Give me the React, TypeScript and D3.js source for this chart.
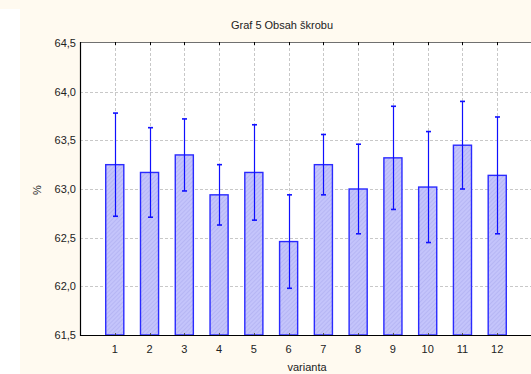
import React from "react";
import * as d3 from "d3";

// starch content by variant: mean and half-width of the error bar
const categories = ["1", "2", "3", "4", "5", "6", "7", "8", "9", "10", "11", "12"];
const means = [63.25, 63.17, 63.35, 62.94, 63.17, 62.46, 63.25, 63.0, 63.32, 63.02, 63.45, 63.14];
const errors = [0.53, 0.46, 0.37, 0.31, 0.49, 0.48, 0.31, 0.46, 0.53, 0.57, 0.45, 0.6];
const yTicks = [61.5, 62.0, 62.5, 63.0, 63.5, 64.0, 64.5];

const W = 531;
const H = 374;
const FONT = "'Liberation Sans', Arial, sans-serif";

export default function App() {
  const left = 80;
  const top = 43;
  const bottom = 335;
  const x = d3.scaleLinear().domain([0, 13]).range([left, 532]);
  const y = d3.scaleLinear().domain([61.5, 64.5]).range([bottom, top]);
  const halfBar = 0.26;
  const fmt = (v: number) => v.toFixed(1).replace(".", ",");

  return (
    <svg
      width={W}
      height={H}
      style={{ position: "absolute", left: 0, top: 0 }}
      fontFamily={FONT}
    >
      <defs>
        <pattern id="hatch" width="3" height="3" patternUnits="userSpaceOnUse" patternTransform="rotate(45)">
          <rect width="3" height="3" fill="#c4c4fb" />
          <line x1="0" y1="0" x2="0" y2="3" stroke="#a8a8ee" strokeWidth="1" />
        </pattern>
      </defs>
      <rect x={0} y={0} width={W} height={H} fill="#fffaf0" />
      <rect x={0} y={9} width={20} height={H - 9} fill="#ffffff" />
      <rect x={left} y={top} width={532 - left} height={bottom - top} fill="#ffffff" />

      {/* grid */}
      {yTicks.slice(1, -1).map((t) => (
        <line
          key={"gy" + t}
          x1={left}
          x2={532}
          y1={Math.round(y(t)) + 0.5}
          y2={Math.round(y(t)) + 0.5}
          stroke="#c8c8c8"
          strokeDasharray="3,2"
        />
      ))}
      {categories.map((c, i) => (
        <line
          key={"gx" + c}
          x1={Math.round(x(i + 1)) + 0.5}
          x2={Math.round(x(i + 1)) + 0.5}
          y1={top}
          y2={bottom}
          stroke="#c8c8c8"
          strokeDasharray="3,2"
        />
      ))}

      {/* bars */}
      {means.map((m, i) => (
        <rect
          key={"b" + i}
          x={x(i + 1 - halfBar)}
          y={y(m)}
          width={x(i + 1 + halfBar) - x(i + 1 - halfBar)}
          height={bottom - y(m)}
          fill="url(#hatch)"
          stroke="#2a2aff"
          strokeWidth={1.4}
        />
      ))}

      {/* error bars */}
      {means.map((m, i) => {
        const cx = Math.round(x(i + 1)) + 0.5;
        const hi = y(m + errors[i]);
        const lo = y(m - errors[i]);
        return (
          <g key={"e" + i} stroke="#1010ff">
            <line x1={cx} x2={cx} y1={hi} y2={lo} strokeWidth={1.2} />
            <line x1={cx - 2.5} x2={cx + 2.5} y1={hi} y2={hi} strokeWidth={1.6} />
            <line x1={cx - 2.5} x2={cx + 2.5} y1={lo} y2={lo} strokeWidth={1.6} />
          </g>
        );
      })}

      {/* frame */}
      <line x1={left} x2={532} y1={top - 0.5} y2={top - 0.5} stroke="#707070" strokeWidth={1} />
      {categories.map((c, i) => (
        <line
          key={"tt" + c}
          x1={Math.round(x(i + 1)) + 0.5}
          x2={Math.round(x(i + 1)) + 0.5}
          y1={top - 1}
          y2={top + 2}
          stroke="#000"
        />
      ))}
      <line x1={left + 0.5} x2={left + 0.5} y1={top - 1} y2={bottom + 1} stroke="#000" strokeWidth={1.2} />
      <line x1={left} x2={532} y1={bottom + 0.5} y2={bottom + 0.5} stroke="#000" strokeWidth={1.2} />
      {categories.map((c, i) => (
        <line
          key={"bt" + c}
          x1={Math.round(x(i + 1)) + 0.5}
          x2={Math.round(x(i + 1)) + 0.5}
          y1={bottom - 2}
          y2={bottom}
          stroke="#555"
        />
      ))}

      {/* y labels */}
      {yTicks.map((t) => (
        <text
          key={"yl" + t}
          x={left - 4}
          y={y(t)}
          dy="0.35em"
          textAnchor="end"
          fontSize={11}
          fill="#222"
        >
          {fmt(t)}
        </text>
      ))}
      {/* x labels */}
      {categories.map((c, i) => (
        <text key={"xl" + c} x={x(i + 1)} y={353} textAnchor="middle" fontSize={11} fill="#222">
          {c}
        </text>
      ))}

      <text x={282} y={29} textAnchor="middle" fontSize={11} fill="#222">
        Graf 5 Obsah škrobu
      </text>
      <text x={307} y={371} textAnchor="middle" fontSize={11} fill="#222">
        varianta
      </text>
      <text
        transform={`translate(41,190) rotate(-90)`}
        textAnchor="middle"
        fontSize={11}
        fill="#222"
      >
        %
      </text>
    </svg>
  );
}
